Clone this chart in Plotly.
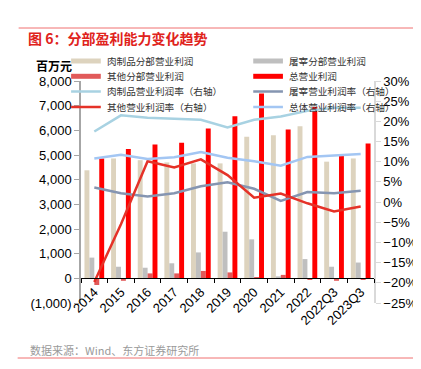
import plotly.graph_objects as go

categories = ['2014', '2015', '2016', '2017', '2018', '2019', '2020', '2021', '2022', '2022Q3', '2023Q3']

# 百万元
meat_profit = [4380, 4860, 4790, 4700, 4660, 4660, 5740, 5800, 6170, 4730, 4860]
slaughter_profit = [840, 470, 430, 610, 1050, 1890, 1580, 80, 780, 470, 640]
other_profit = [-270, -100, 200, 200, 300, 240, 30, 140, -30, -100, -50]
total_profit = [4860, 5240, 5430, 5500, 6070, 6570, 7490, 6030, 6950, 5020, 5470]

# %（右轴）
meat_margin = [17.5, 21.5, 20.9, 20.7, 20.4, 18.5, 20.4, 21.2, 22.6, 23.4, 23.4]
slaughter_margin = [3.6, 2.2, 1.4, 2.2, 3.9, 4.9, 3.3, 0.3, 2.5, 2.2, 2.8]
other_margin = [-19.8, -5.5, 10.1, 8.6, 10.6, 6.7, 1.1, 2.1, -0.3, -2.3, -1.1]
total_margin = [10.8, 11.7, 10.7, 11.1, 12.4, 11.0, 10.1, 9.0, 11.2, 11.5, 11.9]

left_tickvals = [-1000, 0, 1000, 2000, 3000, 4000, 5000, 6000, 7000, 8000]
left_ticktext = ['(1,000)', '0', '1,000', '2,000', '3,000', '4,000', '5,000', '6,000', '7,000', '8,000']

FONT = 'Liberation Sans, Arial, Noto Sans CJK SC, sans-serif'
CJK = 'Noto Sans CJK SC, Liberation Sans, sans-serif'

bar_series = [
    ('肉制品分部营业利润', meat_profit, '#DDD3BE'),
    ('屠宰分部营业利润', slaughter_profit, '#BFBFBF'),
    ('其他分部营业利润', other_profit, '#E15A5A'),
    ('总营业利润', total_profit, '#FF0000'),
]
line_series = [
    ('肉制品营业利润率（右轴）', meat_margin, '#A8D2E2'),
    ('屠宰营业利润率（右轴）', slaughter_margin, '#8595B1'),
    ('其他营业利润率（右轴）', other_margin, '#E53228'),
    ('总体营业利润率（右轴）', total_margin, '#A3C6F3'),
]

# plot area in pixels: left 73, right 369, top 73, bottom 295
PL, PW, PB, PH = 73, 296, 295, 222


def px_x(X):
    return (X - PL) / PW


def px_y(Y):
    return (PB - Y) / PH


fig = go.Figure()
for name, vals, color in bar_series:
    fig.add_trace(go.Bar(x=categories, y=vals, name=name, marker_color=color,
                         marker_line_width=0, yaxis='y', xaxis='x'))
for name, vals, color in line_series:
    fig.add_trace(go.Scatter(x=categories, y=vals, name=name, mode='lines',
                             line=dict(color=color, width=2.5), yaxis='y2', xaxis='x'))

zero_pos = 1000 / 9000

fig.update_layout(
    width=421, height=369,
    margin=dict(l=73, r=52, t=73, b=74),
    paper_bgcolor='white', plot_bgcolor='white',
    barmode='group', bargap=0.26, bargroupgap=0,
    showlegend=False,
    font=dict(family=FONT, size=13, color='#000000'),
    title=dict(text='<b>图 6：分部盈利能力变化趋势</b>', x=20 / 421, xanchor='left',
               xref='container', y=1 - 31 / 369, yref='container', yanchor='middle',
               font=dict(family=CJK, size=14, color='#E0231C')),
    xaxis=dict(type='category', anchor='free', position=zero_pos,
               showline=True, linecolor='#000000', linewidth=1,
               ticks='outside', ticklen=4, tickcolor='#000000', tickson='boundaries',
               tickangle=-45, tickfont=dict(size=13, family=FONT),
               showgrid=False, zeroline=False, range=[-0.5, 10.5]),
    yaxis=dict(range=[-1000, 8000], tickvals=left_tickvals, ticktext=left_ticktext,
               showline=True, linecolor='#A6A6A6', linewidth=1.5,
               ticks='outside', ticklen=5, tickcolor='#A6A6A6',
               showgrid=False, zeroline=False, tickfont=dict(size=13, family=FONT)),
    yaxis2=dict(range=[-25, 30], dtick=5, ticksuffix='%', overlaying='y', side='right',
                showline=True, linecolor='#D9D9D9', linewidth=1.5,
                ticks='outside', ticklen=5, tickcolor='#D9D9D9',
                showgrid=False, zeroline=False, tickfont=dict(size=13, family=FONT)),
)

# legend: 2 columns x 4 rows, in the same order as the reference
legend_items = [
    (bar_series[0], 5), (bar_series[1], 5),
    (bar_series[2], 5), (bar_series[3], 5),
    (line_series[0], 2.5), (line_series[1], 2.5),
    (line_series[2], 2.5), (line_series[3], 2.5),
]
col_x = [63, 247]
row_y = [53, 68.3, 83.5, 99]
for i, ((name, _vals, color), lw) in enumerate(legend_items):
    cx = col_x[i % 2]
    ry = row_y[i // 2]
    fig.add_shape(type='line', xref='paper', yref='paper',
                  x0=px_x(cx), x1=px_x(cx + 30), y0=px_y(ry), y1=px_y(ry),
                  line=dict(color=color, width=lw))
    fig.add_annotation(text=name, x=px_x(cx + 34), y=px_y(ry), xref='paper', yref='paper',
                       xanchor='left', yanchor='middle', showarrow=False,
                       font=dict(family=CJK, size=9.6, color='#333333'))

fig.add_annotation(text='<b>百万元</b>', x=px_x(26), y=px_y(57),
                   xref='paper', yref='paper', xanchor='left', yanchor='middle',
                   showarrow=False, font=dict(family=CJK, size=12, color='#000000'))
fig.add_annotation(text='数据来源：Wind、东方证券研究所', x=px_x(19), y=px_y(341.5),
                   xref='paper', yref='paper', xanchor='left', yanchor='middle',
                   showarrow=False, font=dict(family=CJK, size=11, color='#9A9A9A'))
fig.add_shape(type='line', xref='paper', yref='paper',
              x0=px_x(10), x1=px_x(421), y0=px_y(20), y1=px_y(20),
              line=dict(color='#F07070', width=1))
fig.add_shape(type='line', xref='paper', yref='paper',
              x0=px_x(9), x1=px_x(421), y0=px_y(350), y1=px_y(350),
              line=dict(color='#F07070', width=1))

fig.write_html('out.html')
